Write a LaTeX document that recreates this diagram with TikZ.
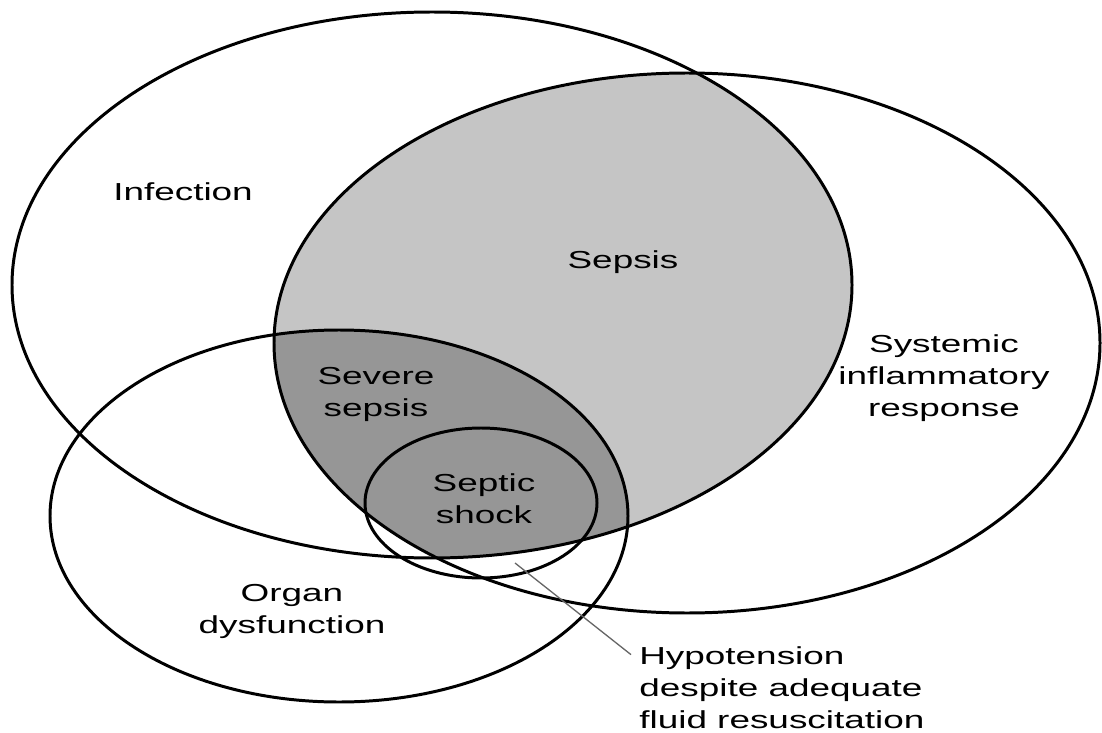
\documentclass[tikz,border=0pt]{standalone}
\usepackage{fontspec}
\setmainfont{Liberation Sans}[FakeStretch=1.5]
\usepackage{xcolor}
\usetikzlibrary{calc}
\definecolor{sepsisgray}{RGB}{197,197,197}
\definecolor{severegray}{RGB}{150,150,150}

\begin{document}
\begin{tikzpicture}[x=0.02cm,y=-0.02cm,font=\fontsize{14}{18.2}\selectfont, ring/.style={line width=1.7pt}, lbl/.style={inner sep=0pt,align=center}, leader/.style={line width=0.75pt,gray!80!black}]
\useasboundingbox (0,0) rectangle (1102,733);
\coordinate (inf) at (432,285);
\coordinate (sirs) at (687,343);
\coordinate (org) at (339,516);
\coordinate (shk) at (481,503);
% sepsis and severe sepsis
\begin{scope}
\clip (inf) ellipse [x radius=420,y radius=273];
\clip (sirs) ellipse [x radius=413,y radius=270];
\fill[sepsisgray] (0,0) rectangle (1102,733);
\clip (org) ellipse [x radius=289,y radius=186];
\fill[severegray] (0,0) rectangle (1102,733);
\end{scope}
% the four sets
\draw[ring] (inf) ellipse [x radius=420,y radius=273];
\draw[ring] (sirs) ellipse [x radius=413,y radius=270];
\draw[ring] (org) ellipse [x radius=289,y radius=186];
\draw[ring] (shk) ellipse [x radius=116,y radius=75];
\node[lbl] (infection) at (183,192) {Infection};
\node[lbl] (sepsis) at (623,262) {Sepsis};
\node[lbl] (sirslbl) at (944,378) {Systemic\\inflammatory\\response};
\node[lbl] (severe) at (376,394) {Severe\\sepsis};
\node[lbl] (shock) at (484,499) {Septic\\shock};
\node[lbl] (organ) at (292,611) {Organ\\dysfunction};
\node[lbl,align=left,anchor=west] (hypo) at (639,688) {Hypotension\\despite adequate\\fluid resuscitation};
\coordinate (tip) at (515,563);
\draw[leader] (tip) -- ($(hypo.north west)+(-8,8)$);
\end{tikzpicture}
\end{document}
